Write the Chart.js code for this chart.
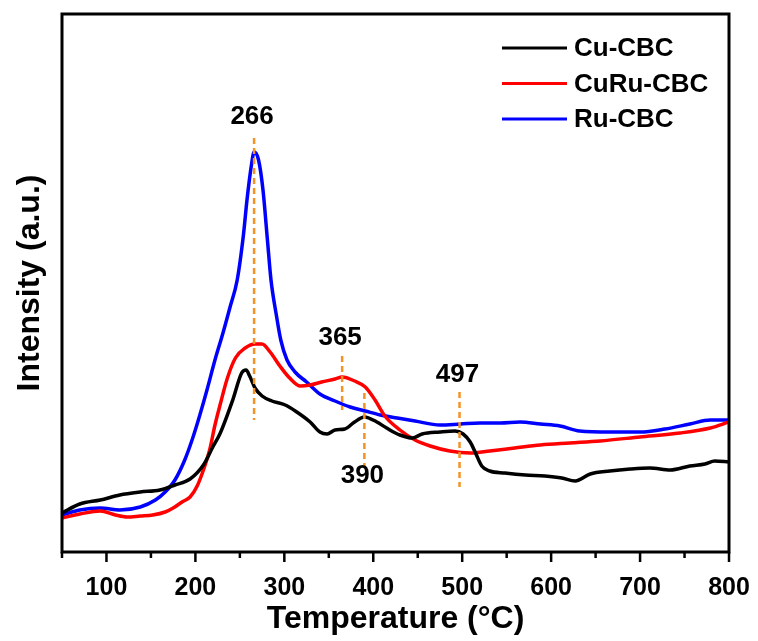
<!DOCTYPE html>
<html>
<head>
<meta charset="utf-8">
<title>H2-TPR profiles</title>
<script src="https://cdn.jsdelivr.net/npm/chart.js@4/dist/chart.umd.min.js"></script>
<style>
  html, body { margin: 0; padding: 0; background: #ffffff; }
  canvas { display: block; }
</style>
</head>
<body>
<canvas id="tpr" width="758" height="641"></canvas>
<script>
// Font used throughout the figure
const FONT = '"Liberation Sans", Arial, Helvetica, sans-serif';

// Series names and colours
const seriesNames = ['Cu-CBC', 'CuRu-CBC', 'Ru-CBC'];
const seriesColors = ['#000000', '#ff0000', '#0000ff'];

// Cu-CBC : temperature (°C) and signal (a.u.)
const tempCu = [50,70,93,115,138,160,177,194,209,219,228,242,252,257,261,267,275,286,301,314,329,340,348,357,368,379,390,404,415,430,444,455,475,492,501,509,516,522,531,548,571,593,612,627,644,666,689,711,734,756,773,784,800];
const intCu  = [39,48,52,57,60,62,67,73,87,104,119,152,179,182,176,164,156,151,147,140,130,120,118,122,123,130,135,130,124,117,114,118,120,121,118,110,97,86,81,79,77,76,74,71,78,81,83,84,82,86,88,91,90];

// CuRu-CBC
const tempCuRu = [50,70,93,110,123,138,152,166,175,185,194,202,209,216,222,228,236,245,256,267,275,284,295,306,318,329,342,357,365,379,391,402,413,430,447,464,486,509,531,559,588,621,655,700,745,779,800];
const intCuRu  = [34,38,41,37,35,36,37,40,44,50,55,66,82,102,127,148,174,194,204,208,208,200,186,174,166,167,170,173,175,171,165,152,136,122,112,106,101,99,101,104,107,109,111,115,119,124,130];

// Ru-CBC
const tempRu = [50,70,93,115,138,155,166,177,188,197,205,213,222,231,239,247,254,258,263,266,271,276,281,285,291,296,303,312,325,340,357,374,391,408,427,447,475,498,520,543,565,588,610,632,666,700,728,756,779,800];
const intRu  = [37,42,44,42,45,52,60,72,92,114,137,162,192,219,245,272,317,352,387,400,392,362,312,272,237,212,192,180,170,158,151,145,141,137,134,131,127,128,129,129,130,128,126,121,120,120,123,128,132,132];

// Axis ranges and tick labels
const xMin = 50, xMax = 800;
const yMin = 0, yMax = 538;
const xTickValues = [100,200,300,400,500,600,700,800];
const xMinorTicks = [50,150,250,350,450,550,650,750];

// Reduction peak markers: temperature, dashed-line span and label height (a.u.)
const peakTemps      = [266, 365, 390, 497];
const peakLineTop    = [414, 196, 159, 160];
const peakLineBottom = [132, 142,  85,  65];
const peakLabelAt    = [435, 214,  76, 177];

const toPoints = (xs, ys) => xs.map((x, i) => ({ x: x, y: ys[i] }));
const seriesData = [toPoints(tempCu, intCu), toPoints(tempCuRu, intCuRu), toPoints(tempRu, intRu)];

// Frame, tick marks, peak markers and legend
const decorations = {
  id: 'decorations',
  afterDatasetsDraw(chart) {
    const ctx = chart.ctx;
    const area = chart.chartArea;
    const xs = chart.scales.x, ys = chart.scales.y;
    ctx.save();

    // dashed peak markers with their temperatures
    ctx.strokeStyle = '#f39325';
    ctx.lineWidth = 2.5;
    ctx.setLineDash([6, 4]);
    peakTemps.forEach((t, i) => {
      const px = xs.getPixelForValue(t);
      ctx.beginPath();
      ctx.moveTo(px, ys.getPixelForValue(peakLineTop[i]));
      ctx.lineTo(px, ys.getPixelForValue(peakLineBottom[i]));
      ctx.stroke();
    });
    ctx.setLineDash([]);
    ctx.fillStyle = '#000';
    ctx.font = 'bold 26px ' + FONT;
    ctx.textAlign = 'center';
    ctx.textBaseline = 'middle';
    peakTemps.forEach((t, i) => {
      ctx.fillText(String(t), xs.getPixelForValue(t) - 2, ys.getPixelForValue(peakLabelAt[i]));
    });

    // plot frame
    ctx.strokeStyle = '#000';
    ctx.lineWidth = 3;
    ctx.strokeRect(area.left, area.top, area.right - area.left, area.bottom - area.top);

    // bottom tick marks (outward)
    ctx.lineWidth = 2.5;
    const mark = (v, len) => {
      const px = xs.getPixelForValue(v);
      ctx.beginPath();
      ctx.moveTo(px, area.bottom);
      ctx.lineTo(px, area.bottom + len);
      ctx.stroke();
    };
    xTickValues.forEach(v => mark(v, 10));
    xMinorTicks.forEach(v => mark(v, 6));

    // legend
    ctx.font = 'bold 26px ' + FONT;
    ctx.textAlign = 'left';
    ctx.textBaseline = 'middle';
    chart.data.datasets.forEach((ds, i) => {
      const y = area.top + 34 + i * 35.5;
      ctx.strokeStyle = ds.borderColor;
      ctx.lineWidth = 3;
      ctx.beginPath();
      ctx.moveTo(502, y);
      ctx.lineTo(567, y);
      ctx.stroke();
      ctx.fillStyle = '#000';
      ctx.fillText(ds.label, 574, y + 1);
    });
    ctx.restore();
  }
};

new Chart(document.getElementById('tpr'), {
  type: 'line',
  data: {
    datasets: seriesNames.map((name, i) => ({
      label: name,
      data: seriesData[i],
      borderColor: seriesColors[i],
      backgroundColor: seriesColors[i],
      borderWidth: 3.5,
      pointRadius: 0,
      cubicInterpolationMode: 'monotone',
      fill: false
    }))
  },
  options: {
    responsive: false,
    animation: false,
    events: [],
    layout: { padding: { top: 14, right: 29, left: 0, bottom: 0 } },
    plugins: { legend: { display: false }, tooltip: { enabled: false } },
    scales: {
      x: {
        type: 'linear',
        min: xMin,
        max: xMax,
        grid: { display: false },
        border: { display: false },
        afterBuildTicks: s => { s.ticks = xTickValues.map(v => ({ value: v })); },
        afterFit: s => { s.height = 89; s.paddingLeft = 0; s.paddingRight = 0; },
        ticks: {
          color: '#000',
          padding: 13,
          maxRotation: 0,
          autoSkip: false,
          font: { family: FONT, size: 25, weight: 'bold' }
        },
        title: {
          display: true,
          text: 'Temperature (°C)',
          color: '#000',
          padding: { top: 0, bottom: 3 },
          font: { family: FONT, size: 32, weight: 'bold' }
        }
      },
      y: {
        min: yMin,
        max: yMax,
        grid: { display: false },
        border: { display: false },
        ticks: { display: false },
        afterFit: s => { s.width = 62; s.paddingTop = 0; s.paddingBottom = 0; },
        title: {
          display: true,
          text: 'Intensity (a.u.)',
          color: '#000',
          padding: { top: 11, bottom: 0 },
          font: { family: FONT, size: 32, weight: 'bold' }
        }
      }
    }
  },
  plugins: [decorations]
});
</script>
</body>
</html>
